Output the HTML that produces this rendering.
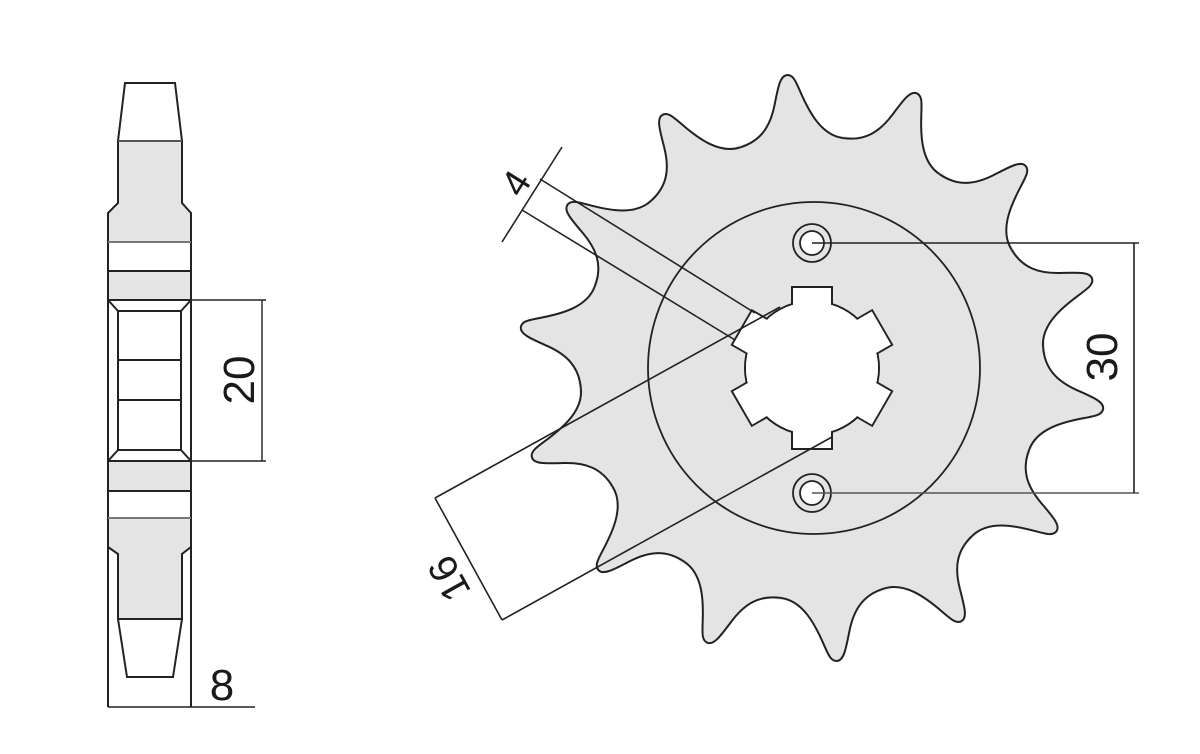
<!DOCTYPE html>
<html><head><meta charset="utf-8"><style>
html,body{margin:0;padding:0;background:#fff;}
svg{display:block;}
text{font-family:"Liberation Sans",sans-serif;fill:#1a1a1a;}
</style></head><body>
<svg width="1200" height="754" viewBox="0 0 1200 754" xmlns="http://www.w3.org/2000/svg">
<defs>
<path id="seg" d="M -51.6,-226.2 C -30,-231 -20,-245 -14,-265 C -9,-282 -6,-294 1,-294 C 7,-294 9,-288 13,-276 C 20,-255 30,-231 51.6,-226.2"/>
<path id="segf" d="M 0,0 L -51.6,-226.2 C -30,-231 -20,-245 -14,-265 C -9,-282 -6,-294 1,-294 C 7,-294 9,-288 13,-276 C 20,-255 30,-231 51.6,-226.2 Z"/>
<rect id="key" x="-20" y="-81" width="40" height="24"/>
</defs>

<!-- SIDE VIEW -->
<g stroke="#222" stroke-width="2" fill="none">
  <polygon points="125,83 175,83 182,141 118,141" fill="#fff"/>
  <polygon points="118,141 182,141 182,203 191,213 191,242 108,242 108,213 118,203" fill="#e4e4e4" stroke="none"/>
  <polyline points="118,141 118,203 108,213 108,707"/>
  <polyline points="182,141 182,203 191,213 191,707"/>
  <line x1="118" y1="141" x2="182" y2="141" stroke="#555"/>
  <line x1="108" y1="242" x2="191" y2="242" stroke="#777"/>
  <line x1="108" y1="271" x2="191" y2="271"/>
  <rect x="109" y="272" width="81" height="28" fill="#e4e4e4" stroke="none"/>
  <rect x="108" y="300" width="83" height="161" fill="#fff"/>
  <rect x="118" y="311" width="63" height="139" fill="#fff"/>
  <line x1="108" y1="300" x2="118" y2="311"/><line x1="191" y1="300" x2="181" y2="311"/>
  <line x1="108" y1="461" x2="118" y2="450"/><line x1="191" y1="461" x2="181" y2="450"/>
  <line x1="118" y1="360" x2="181" y2="360"/><line x1="118" y1="400" x2="181" y2="400"/>
  <rect x="109" y="462" width="81" height="28" fill="#e4e4e4" stroke="none"/>
  <line x1="108" y1="491" x2="191" y2="491"/>
  <line x1="108" y1="518" x2="191" y2="518" stroke="#777"/>
  <polygon points="109,519 190,519 190,547 182,554 182,619 118,619 118,554 109,547" fill="#e4e4e4" stroke="none"/>
  <polyline points="191,547 182,554 182,619 173,677 127,677 118,619 118,554 108,547"/>
  <line x1="118" y1="619" x2="182" y2="619"/>
  <line x1="108" y1="707" x2="255" y2="707" stroke-width="1.6"/>
  <line x1="191" y1="300" x2="266" y2="300" stroke-width="1.6"/>
  <line x1="191" y1="461" x2="266" y2="461" stroke-width="1.6"/>
  <line x1="262" y1="300" x2="262" y2="461" stroke-width="1.4"/>
</g>
<text x="0" y="0" font-size="44" text-anchor="middle" transform="translate(254,380) rotate(-90)">20</text>
<text x="222" y="700" font-size="44" text-anchor="middle">8</text>

<!-- SPROCKET -->
<g transform="translate(812,368)">
  <circle r="234" fill="#e4e4e4"/>
  <g fill="#e4e4e4" stroke="none">
    <use href="#segf" transform="rotate(-5.1)"/><use href="#segf" transform="rotate(20.61)"/><use href="#segf" transform="rotate(46.33)"/><use href="#segf" transform="rotate(72.04)"/><use href="#segf" transform="rotate(97.76)"/><use href="#segf" transform="rotate(123.47)"/><use href="#segf" transform="rotate(149.19)"/><use href="#segf" transform="rotate(174.9)"/><use href="#segf" transform="rotate(200.61)"/><use href="#segf" transform="rotate(226.33)"/><use href="#segf" transform="rotate(252.04)"/><use href="#segf" transform="rotate(277.76)"/><use href="#segf" transform="rotate(303.47)"/><use href="#segf" transform="rotate(329.19)"/>
  </g>
  <g fill="none" stroke="#222" stroke-width="2">
    <use href="#seg" transform="rotate(-5.1)"/><use href="#seg" transform="rotate(20.61)"/><use href="#seg" transform="rotate(46.33)"/><use href="#seg" transform="rotate(72.04)"/><use href="#seg" transform="rotate(97.76)"/><use href="#seg" transform="rotate(123.47)"/><use href="#seg" transform="rotate(149.19)"/><use href="#seg" transform="rotate(174.9)"/><use href="#seg" transform="rotate(200.61)"/><use href="#seg" transform="rotate(226.33)"/><use href="#seg" transform="rotate(252.04)"/><use href="#seg" transform="rotate(277.76)"/><use href="#seg" transform="rotate(303.47)"/><use href="#seg" transform="rotate(329.19)"/>
    <circle cx="2" cy="0" r="166" stroke-width="1.8"/>
  </g>
  <g fill="#fff" stroke="#222" stroke-width="2">
    <circle r="67"/>
    <use href="#key"/><use href="#key" transform="rotate(60)"/><use href="#key" transform="rotate(120)"/><use href="#key" transform="rotate(180)"/><use href="#key" transform="rotate(240)"/><use href="#key" transform="rotate(300)"/>
  </g>
  <g fill="#fff" stroke="none">
    <circle r="66"/>
    <rect x="-19" y="-80" width="38" height="24"/><rect x="-19" y="-80" width="38" height="24" transform="rotate(60)"/><rect x="-19" y="-80" width="38" height="24" transform="rotate(120)"/><rect x="-19" y="-80" width="38" height="24" transform="rotate(180)"/><rect x="-19" y="-80" width="38" height="24" transform="rotate(240)"/><rect x="-19" y="-80" width="38" height="24" transform="rotate(300)"/>
  </g>
  <g stroke="#222" stroke-width="1.8">
    <circle cx="0" cy="-125" r="19" fill="none"/>
    <circle cx="0" cy="-125" r="12" fill="#fff"/>
    <circle cx="0" cy="125" r="19" fill="none"/>
    <circle cx="0" cy="125" r="12" fill="#fff"/>
  </g>
</g>

<g stroke="#222" stroke-width="1.6" fill="none">
  <line x1="812" y1="243" x2="1139" y2="243"/>
  <line x1="812" y1="493" x2="1139" y2="493" stroke="#555"/>
  <line x1="1134" y1="243" x2="1134" y2="493"/>
  <line x1="540" y1="179" x2="755" y2="313"/>
  <line x1="522" y1="210" x2="735" y2="340"/>
  <line x1="502" y1="242" x2="562" y2="147"/>
  <line x1="435" y1="498" x2="780" y2="307"/>
  <line x1="502" y1="620" x2="832" y2="437"/>
  <line x1="435" y1="498" x2="502" y2="620"/>
</g>
<text x="0" y="0" font-size="44" text-anchor="middle" transform="translate(1117,357) rotate(-90)">30</text>
<text x="0" y="0" font-size="38" text-anchor="middle" transform="translate(527,190) rotate(-58)">4</text>
<text x="0" y="0" font-size="40" text-anchor="middle" transform="translate(461,572) rotate(-119)">16</text>
</svg>
</body></html>
